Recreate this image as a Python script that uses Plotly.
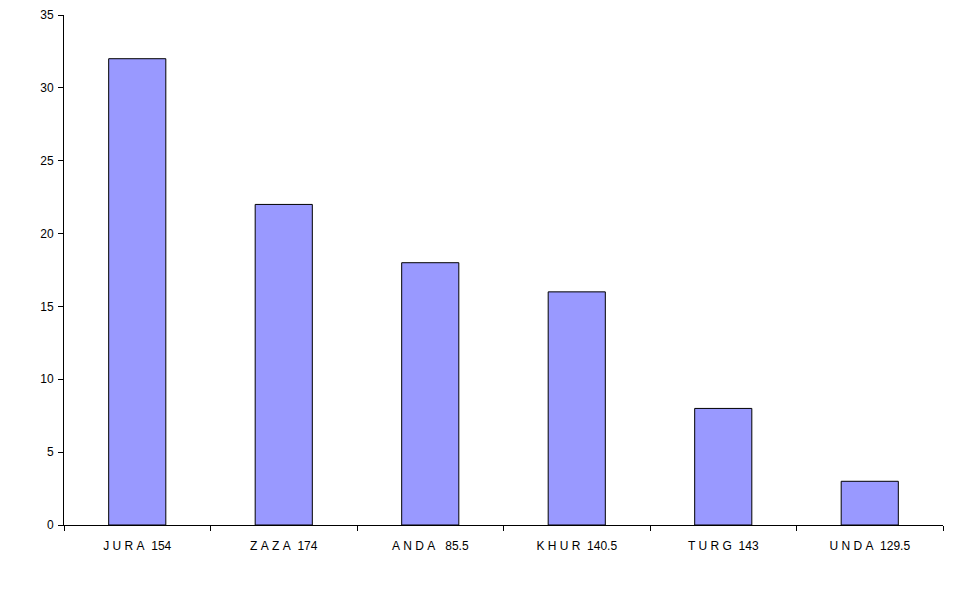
import plotly.graph_objects as go

NB = "\u00a0"
categories = ["J U R A  154", "Z A Z A  174", "A N D A   85.5", "K H U R  140.5", "T U R G  143", "U N D A  129.5"]
values = [32, 22, 18, 16, 8, 3]
y_ticks = [0, 5, 10, 15, 20, 25, 30, 35]

labels = [c.replace(" ", NB) for c in categories]

fig = go.Figure(go.Bar(
    x=labels, y=values,
    marker=dict(color="#9999FF", line=dict(color="black", width=1)),
    width=0.39,
))

fig.update_layout(
    width=959, height=599,
    margin=dict(l=56, r=24, t=7, b=82, autoexpand=False),
    plot_bgcolor="white", paper_bgcolor="white",
    font=dict(family="Liberation Sans, Arial", size=12, color="black"),
    showlegend=False,
)
fig.update_xaxes(
    showline=True, linecolor="black", linewidth=1,
    ticks="outside", tickson="boundaries", ticklen=5, tickcolor="black",
    showgrid=False, ticklabelstandoff=10, automargin=False,
    tickfont=dict(size=12),
)
fig.update_yaxes(
    range=[0, 35], tickvals=y_ticks, showline=True, linecolor="black", linewidth=1,
    ticks="outside", ticklen=5, tickcolor="black", showgrid=False, zeroline=False,
    ticklabelstandoff=2, automargin=False,
)

fig.write_html("out.html")
